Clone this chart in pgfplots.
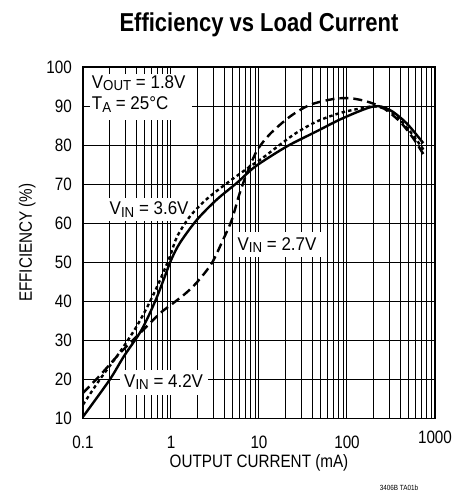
\documentclass[border=0pt]{standalone}
\usepackage{fontspec}
\setmainfont{Liberation Sans}[FakeStretch=0.85]
\newfontfamily\annot{Liberation Sans}[FakeStretch=0.92]
\usepackage{pgfplots}
\pgfplotsset{compat=1.18}
\newcommand\lbl{\fontsize{18}{20}\selectfont}
\newcommand\alb{\annot\fontsize{18.5}{20}\selectfont}
\newcommand\sub[1]{\raisebox{-0.13em}{\fontsize{14.5}{15}\selectfont #1}}
\begin{document}
\begin{tikzpicture}
\begin{axis}[
  scale only axis, width=352bp, height=351.3bp,
  xmode=log, log basis x=10,
  xmin=0.1, xmax=1000, ymin=10, ymax=100,
  xtick={0.1,1,10,100,1000}, xticklabels={0.1,1,10,100,\raisebox{5bp}{1000}},
  minor xtick={0.2,0.3,0.4,0.5,0.6,0.7,0.8,0.9,2,3,4,5,6,7,8,9,20,30,40,50,60,70,80,90,200,300,400,500,600,700,800,900},
  ytick={10,20,...,100},
  xmajorgrids, xminorgrids, ymajorgrids,
  major grid style={black, line width=1.0bp},
  minor grid style={black, line width=0.9bp},
  axis line style={line width=1.5bp},
  major tick length=0pt, minor tick length=0pt,
  tick label style={font=\lbl},
  /pgf/number format/assume math mode=true,
  xticklabel style={anchor=base, inner sep=0pt, yshift=-30bp},
  yticklabel style={anchor=east, inner sep=0pt, xshift=-11bp},
]
\coordinate (SW) at (rel axis cs:0,0);
\coordinate (NE) at (rel axis cs:1,1);
% label boxes
\fill[white] (axis cs:0.12,86.4) rectangle (axis cs:1.72,98.2);
\node[anchor=base west, inner sep=0pt] at (axis cs:0.1256,94.5) {\alb V\sub{OUT} = 1.8V};
\node[anchor=base west, inner sep=0pt] at (axis cs:0.1256,89.0) {\alb T\sub{A} = 25°C};
\node[anchor=base west, fill=white, inner xsep=4.5bp, inner ysep=4bp] at (axis cs:0.178,62.1) {\alb V\sub{IN} = 3.6V};
\node[anchor=base west, fill=white, inner xsep=4.5bp, inner ysep=5bp] at (axis cs:5.06,53.1) {\alb V\sub{IN} = 2.7V};
\node[anchor=base west, fill=white, inner xsep=4.5bp, inner ysep=5bp] at (axis cs:0.26,17.9) {\alb V\sub{IN} = 4.2V};
% solid
\addplot[black, line width=2.4bp, smooth, tension=0.5] coordinates {
(0.1,10.4)(0.2,19.8)(0.29,25.8)(0.44,31.8)(0.55,36)(0.69,41)(0.85,46.3)(1,50.5)(1.26,54.9)(1.96,60.8)(3.3,66)(5.6,70.3)(8.6,74.1)(13.3,77)(22.5,80.1)(45,83.5)(90,86.9)(200,89.9)(306,89)(475,85.6)(736,80.5)
};
% dotted
\addplot[black, line width=2.4bp, dash pattern=on 3.5bp off 3bp, smooth, tension=0.5] coordinates {
(0.1,13.5)(0.156,20)(0.263,27)(0.406,33.5)(0.58,40)(0.75,45.4)(0.97,51.4)(1.17,56.5)(1.64,61.7)(2.5,66)(4.3,70.2)(7.9,74.5)(11,76.7)(24.5,82.6)(45,86)(83,88.2)(151,89.5)(216,89.9)(334,88.2)(520,83.5)(700,79.6)(750,78.6)
};
% dashed
\addplot[black, line width=2.4bp, dash pattern=on 9bp off 5bp, smooth, tension=0.5] coordinates {
(0.1,16.5)(0.156,21)(0.263,26.7)(0.444,31.8)(0.75,36.9)(1.06,39.5)(1.5,42.2)(2,45)(2.9,49.7)(3.9,55.7)(4.9,60.8)(6,67.5)(7.3,72.8)(9.5,78.6)(13.3,82.8)(22.5,87.3)(38,90.3)(70,91.8)(108,92)(166,91.2)(257,89.5)(400,86)(567,81.7)(770,77)
};
\end{axis}
\path (SW) ++(176bp,-49bp) node[anchor=base]{\lbl OUTPUT CURRENT (mA)};
\path (SW) ++(-51bp,175.65bp) node[rotate=90, anchor=base]{\lbl EFFICIENCY (\%)};
\path (NE) ++(-176bp,36bp) node[anchor=base]{\fontsize{26}{28}\selectfont\bfseries Efficiency vs Load Current};
\path (SW) ++(316bp,-72bp) node[anchor=base]{\fontsize{7.5}{8}\selectfont 3406B TA01b};
\pgfresetboundingbox
\path[use as bounding box] (SW) ++(-83bp,-82.7bp) rectangle ++(461bp,501bp);
\end{tikzpicture}
\end{document}
